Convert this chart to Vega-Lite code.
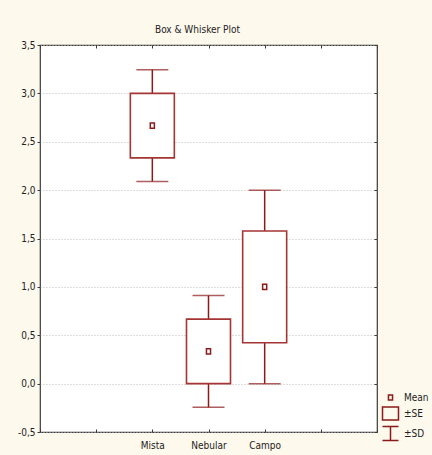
{
  "$schema": "https://vega.github.io/schema/vega-lite/v6.json",
  "width": 337,
  "height": 387,
  "autosize": {"type": "none"},
  "padding": {"left": 40, "top": 45, "right": 55, "bottom": 23},
  "background": "#fef9ed",
  "title": {
    "text": "Box & Whisker Plot",
    "font": "Liberation Sans Narrow, DejaVu Sans Condensed, sans-serif",
    "fontSize": 10,
    "fontWeight": "normal",
    "color": "#222222",
    "anchor": "middle",
    "offset": 5,
    "dx": -11
  },
  "config": {
    "view": {"fill": "white", "stroke": "#3a3a3a", "strokeWidth": 1.2},
    "axis": {
      "labelFont": "Liberation Sans Narrow, DejaVu Sans Condensed, sans-serif",
      "labelFontSize": 10,
      "labelColor": "#222222",
      "tickColor": "#3a3a3a",
      "domain": false,
      "title": null
    },
    "legend": {
      "labelFont": "Liberation Sans Narrow, DejaVu Sans Condensed, sans-serif",
      "labelFontSize": 10,
      "labelColor": "#222222"
    }
  },
  "data": {
    "values": [
      {"group": "Mista", "mean": 2.667, "se_lo": 2.333, "se_hi": 3.0, "sd_lo": 2.09, "sd_hi": 3.245},
      {"group": "Nebular", "mean": 0.333, "se_lo": 0.0, "se_hi": 0.667, "sd_lo": -0.244, "sd_hi": 0.91},
      {"group": "Campo", "mean": 1.0, "se_lo": 0.423, "se_hi": 1.577, "sd_lo": 0.0, "sd_hi": 2.0}
    ]
  },
  "layer": [
    {
      "mark": {"type": "rule", "color": "#8b1a1a", "strokeWidth": 1.5},
      "encoding": {
        "x": {
          "field": "group", "type": "nominal",
          "scale": {"type": "point", "domain": [" ", "  ", "Mista", "Nebular", "Campo", "   ", "    "], "padding": 0},
          "axis": {"orient": "bottom", "tickSize": -3, "labelPadding": 11, "labelAngle": 0, "grid": false}
        },
        "y": {
          "field": "se_hi", "type": "quantitative",
          "scale": {"domain": [-0.5, 3.5], "nice": false, "zero": false},
          "axis": {
            "orient": "left",
            "values": [-0.5, 0, 0.5, 1, 1.5, 2, 2.5, 3, 3.5],
            "tickSize": 3,
            "labelPadding": 2,
            "labelExpr": "(datum.value < 0 ? '-' : '') + replace(format(abs(datum.value), '.1f'), '.', ',')",
            "grid": true,
            "gridColor": "#bdbdbd",
            "gridDash": [1, 2],
            "gridWidth": 1
          }
        },
        "y2": {"field": "sd_hi"}
      }
    },
    {
      "mark": {"type": "rule", "color": "#8b1a1a", "strokeWidth": 1.5},
      "encoding": {
        "x": {"field": "group", "type": "nominal", "axis": null},
        "y": {"field": "sd_lo", "type": "quantitative", "axis": null},
        "y2": {"field": "se_lo"}
      }
    },
    {
      "mark": {"type": "tick", "color": "#8b1a1a", "size": 32, "thickness": 1.5},
      "encoding": {
        "x": {"field": "group", "type": "nominal", "axis": null},
        "y": {"field": "sd_hi", "type": "quantitative", "axis": null}
      }
    },
    {
      "mark": {"type": "tick", "color": "#8b1a1a", "size": 32, "thickness": 1.5},
      "encoding": {
        "x": {"field": "group", "type": "nominal", "axis": null},
        "y": {"field": "sd_lo", "type": "quantitative", "axis": null}
      }
    },
    {
      "mark": {"type": "bar", "size": 44, "fill": "white", "stroke": "#a53434", "strokeWidth": 1.6},
      "encoding": {
        "x": {"field": "group", "type": "nominal", "axis": null},
        "y": {"field": "se_lo", "type": "quantitative", "axis": null},
        "y2": {"field": "se_hi"}
      }
    },
    {
      "mark": {"type": "point", "filled": false, "color": "#8b1a1a", "strokeWidth": 1.5, "size": 289, "opacity": 1},
      "encoding": {
        "x": {
          "field": "group", "type": "nominal",
          "axis": {"orient": "top", "tickSize": -3, "labels": false, "grid": false}
        },
        "y": {
          "field": "mean", "type": "quantitative",
          "axis": {"orient": "right", "values": [-0.5, 0, 0.5, 1, 1.5, 2, 2.5, 3, 3.5], "tickSize": -3, "labels": false, "grid": false}
        },
        "shape": {
          "datum": "Mean",
          "type": "nominal",
          "scale": {
            "domain": ["Mean", "±SE", "±SD"],
            "range": [
              "M-0.24,-0.3H0.24V0.3H-0.24Z",
              "M-0.94,-0.76H0.94V0.76H-0.94Z",
              "M-0.94,-0.82H0.94M0,-0.82V0.82M-0.94,0.82H0.94"
            ]
          },
          "legend": {
            "title": null,
            "orient": "none",
            "legendX": 341,
            "legendY": 343,
            "padding": 0,
            "rowPadding": 0,
            "symbolSize": 289,
            "symbolStrokeColor": "#8b1a1a",
            "symbolFillColor": "transparent",
            "symbolStrokeWidth": 1.5,
            "symbolOpacity": 1,
            "labelOffset": 4
          }
        }
      }
    }
  ]
}
